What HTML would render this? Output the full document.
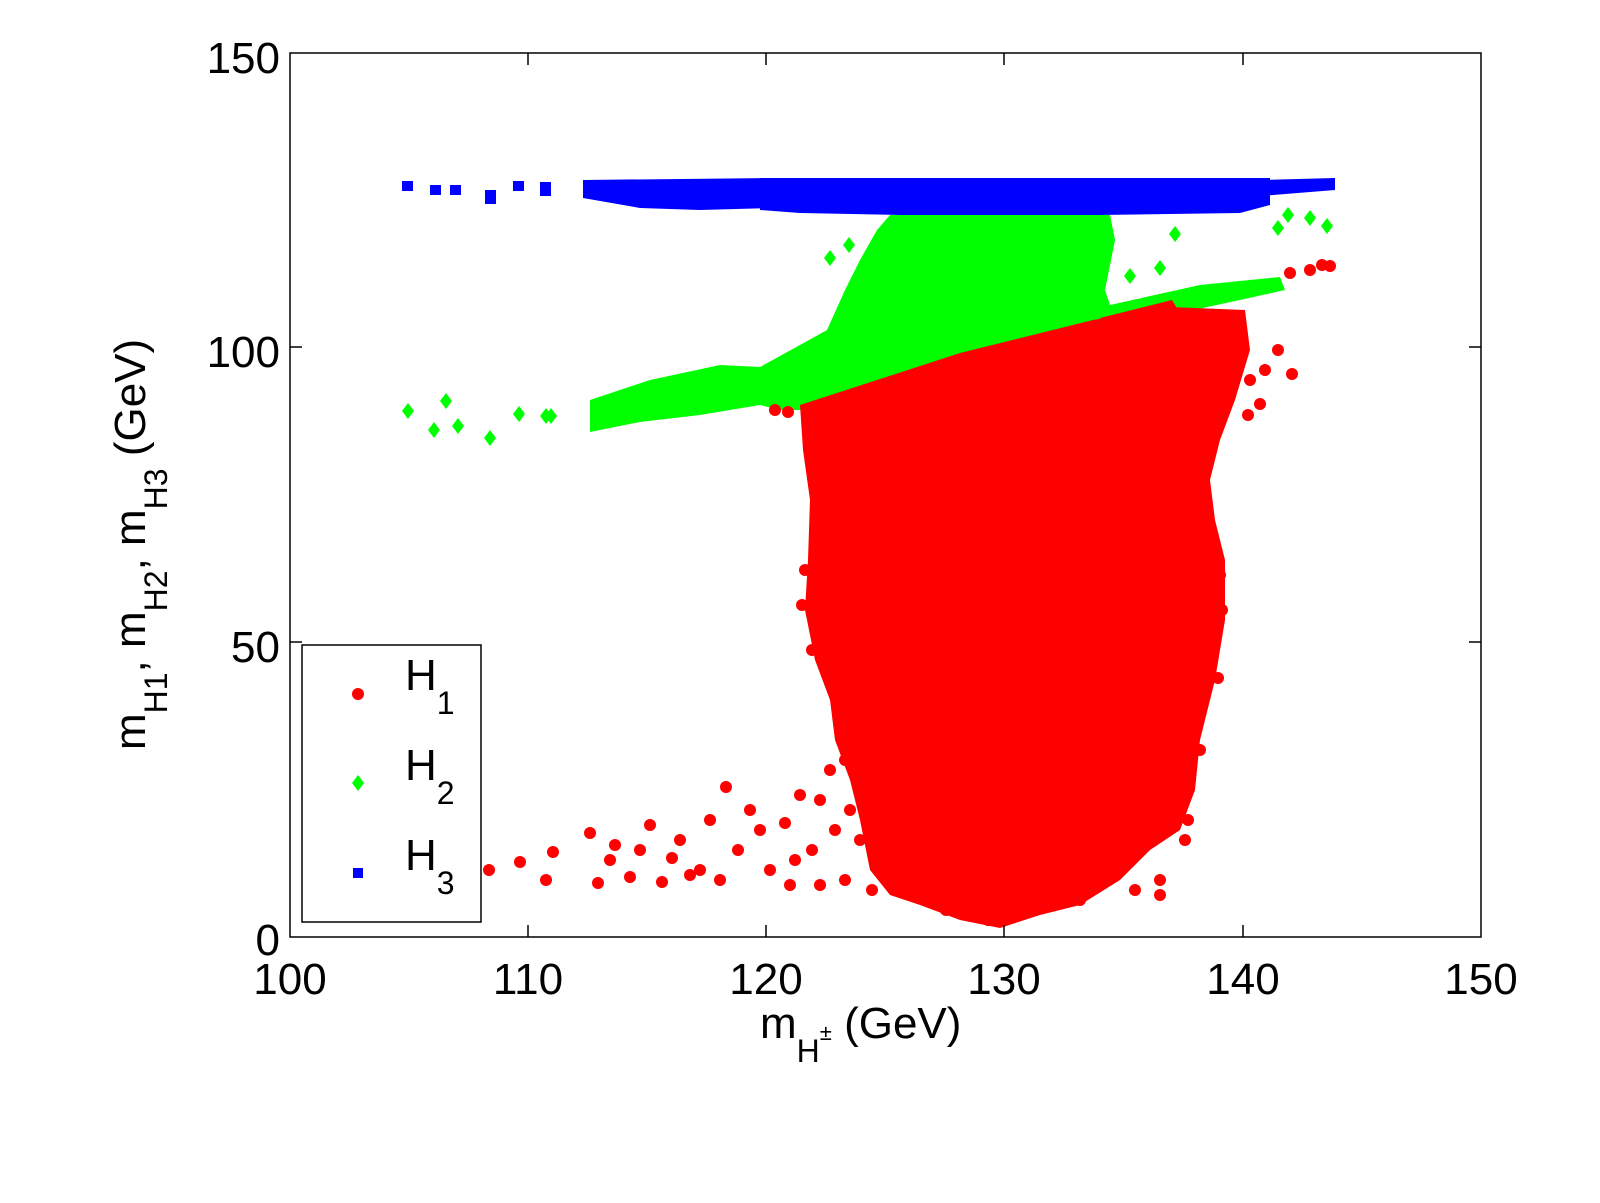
<!DOCTYPE html>
<html><head><meta charset="utf-8"><style>
html,body{margin:0;padding:0;background:#fff;}
svg{display:block;font-family:"Liberation Sans",sans-serif;}
</style></head><body>
<svg width="1600" height="1203" viewBox="0 0 1600 1203" xmlns="http://www.w3.org/2000/svg">
<rect width="1600" height="1203" fill="#fff"/>
<!-- blue band -->
<g fill="#0000ff">
<polygon points="760,178 1270,178 1270,205 1240,213 1100,215 900,215 800,213 760,210"/>
<polygon points="583,180 770,178 770,208 700,210 640,208 583,198"/>
<polygon points="1260,180 1335,178 1335,190 1260,196"/>
<rect x="402" y="181" width="11" height="10"/><rect x="430" y="185" width="11" height="10"/>
<rect x="450" y="185" width="11" height="10"/><rect x="485" y="190" width="11" height="14"/>
<rect x="513" y="181" width="11" height="10"/><rect x="540" y="182" width="11" height="14"/>
</g>
<!-- green -->
<g fill="#00ff00">
<polygon points="877,230 890,215 1110,215 1115,240 1105,290 1110,305 1200,285 1280,277 1285,290 1240,300 1100,330 960,355 810,410 780,410 760,405 700,415 640,422 590,432 590,400 650,380 720,365 760,367 800,345 827,330 845,290 860,260"/>
<g>
<polygon points="408,403 414,411 408,419 402,411"/><polygon points="434,422 440,430 434,438 428,430"/>
<polygon points="446,393 452,401 446,409 440,401"/><polygon points="458,418 464,426 458,434 452,426"/>
<polygon points="490,430 496,438 490,446 484,438"/><polygon points="519,406 525,414 519,422 513,414"/>
<polygon points="546,408 552,416 546,424 540,416"/><polygon points="551,408 557,416 551,424 545,416"/>
<polygon points="1288,207 1294,215 1288,223 1282,215"/><polygon points="1310,210 1316,218 1310,226 1304,218"/>
<polygon points="1327,218 1333,226 1327,234 1321,226"/><polygon points="1175,226 1181,234 1175,242 1169,234"/>
<polygon points="1130,268 1136,276 1130,284 1124,276"/><polygon points="1160,260 1166,268 1160,276 1154,268"/>
<polygon points="830,250 836,258 830,266 824,258"/><polygon points="849,237 855,245 849,253 843,245"/>
<polygon points="1278,220 1284,228 1278,236 1272,228"/>
</g></g>
<!-- red -->
<g fill="#ff0000">
<polygon points="800,405 960,353 1093,320 1170,307 1245,310 1250,350 1235,400 1220,440 1210,480 1215,520 1225,560 1225,620 1215,680 1200,740 1195,790 1180,830 1150,850 1120,880 1080,905 1040,915 1000,928 960,920 920,905 890,895 870,870 860,820 850,780 835,740 830,700 815,660 805,610 808,560 810,500 803,450"/>
<polygon points="1100,318 1172,300 1178,310 1110,328"/>
<g>
<circle cx="489" cy="870" r="6"/><circle cx="520" cy="862" r="6"/><circle cx="546" cy="880" r="6"/><circle cx="553" cy="852" r="6"/>
<circle cx="590" cy="833" r="6"/><circle cx="598" cy="883" r="6"/><circle cx="610" cy="860" r="6"/><circle cx="630" cy="877" r="6"/>
<circle cx="650" cy="825" r="6"/><circle cx="662" cy="882" r="6"/><circle cx="680" cy="840" r="6"/><circle cx="700" cy="870" r="6"/>
<circle cx="710" cy="820" r="6"/><circle cx="726" cy="787" r="6"/><circle cx="738" cy="850" r="6"/><circle cx="750" cy="810" r="6"/>
<circle cx="770" cy="870" r="6"/><circle cx="785" cy="823" r="6"/><circle cx="790" cy="885" r="6"/><circle cx="800" cy="795" r="6"/>
<circle cx="812" cy="850" r="6"/><circle cx="830" cy="770" r="6"/><circle cx="845" cy="880" r="6"/><circle cx="860" cy="840" r="6"/>
<circle cx="870" cy="760" r="6"/><circle cx="880" cy="870" r="6"/><circle cx="640" cy="850" r="6"/><circle cx="672" cy="858" r="6"/>
<circle cx="615" cy="845" r="6"/><circle cx="690" cy="875" r="6"/><circle cx="720" cy="880" r="6"/><circle cx="760" cy="830" r="6"/>
<circle cx="795" cy="860" r="6"/><circle cx="820" cy="885" r="6"/><circle cx="850" cy="810" r="6"/><circle cx="872" cy="890" r="6"/>
<circle cx="802" cy="605" r="6"/><circle cx="805" cy="570" r="6"/><circle cx="812" cy="650" r="6"/><circle cx="840" cy="698" r="6"/>
<circle cx="858" cy="735" r="6"/><circle cx="845" cy="760" r="6"/><circle cx="820" cy="800" r="6"/><circle cx="835" cy="830" r="6"/>
<circle cx="1220" cy="575" r="6"/><circle cx="1222" cy="610" r="6"/><circle cx="1218" cy="678" r="6"/><circle cx="1200" cy="750" r="6"/>
<circle cx="1188" cy="820" r="6"/><circle cx="1160" cy="880" r="6"/><circle cx="1130" cy="860" r="6"/><circle cx="1080" cy="900" r="6"/>
<circle cx="1108" cy="875" r="6"/><circle cx="1135" cy="890" r="6"/><circle cx="1160" cy="895" r="6"/><circle cx="1185" cy="840" r="6"/>
<circle cx="1150" cy="840" r="6"/><circle cx="1180" cy="780" r="6"/><circle cx="1195" cy="700" r="6"/><circle cx="1120" cy="830" r="6"/>
<circle cx="1260" cy="404" r="6"/><circle cx="1265" cy="370" r="6"/><circle cx="1278" cy="350" r="6"/><circle cx="1292" cy="374" r="6"/>
<circle cx="1250" cy="380" r="6"/><circle cx="1248" cy="415" r="6"/>
<circle cx="1290" cy="273" r="6"/><circle cx="1310" cy="270" r="6"/><circle cx="1330" cy="266" r="6"/><circle cx="1322" cy="265" r="6"/>
<circle cx="775" cy="410" r="6"/><circle cx="788" cy="412" r="6"/><circle cx="988" cy="920" r="6"/><circle cx="1010" cy="912" r="6"/><circle cx="946" cy="910" r="6"/>
</g></g>
<!-- axes box -->
<rect x="290" y="53" width="1191" height="884" fill="none" stroke="#000" stroke-width="1.5"/>
<g stroke="#000" stroke-width="1.5">
<line x1="528" y1="937" x2="528" y2="925"/><line x1="766" y1="937" x2="766" y2="925"/><line x1="1004" y1="937" x2="1004" y2="925"/><line x1="1243" y1="937" x2="1243" y2="925"/>
<line x1="528" y1="53" x2="528" y2="65"/><line x1="766" y1="53" x2="766" y2="65"/><line x1="1004" y1="53" x2="1004" y2="65"/><line x1="1243" y1="53" x2="1243" y2="65"/>
<line x1="290" y1="347" x2="302" y2="347"/><line x1="290" y1="642" x2="302" y2="642"/>
<line x1="1481" y1="347" x2="1469" y2="347"/><line x1="1481" y1="642" x2="1469" y2="642"/>
</g>
<g font-size="44" fill="#000">
<text x="280" y="73" text-anchor="end">150</text>
<text x="280" y="367" text-anchor="end">100</text>
<text x="280" y="662" text-anchor="end">50</text>
<text x="280" y="955" text-anchor="end">0</text>
<g text-anchor="middle">
<text x="290" y="994">100</text><text x="528" y="994">110</text><text x="766" y="994">120</text>
<text x="1004" y="994">130</text><text x="1243" y="994">140</text><text x="1481" y="994">150</text>
</g>
<text x="760" y="1038">m<tspan font-size="32" dy="24">H</tspan><tspan font-size="22" dy="-22">±</tspan><tspan dy="-2"> (GeV)</tspan></text>
<text transform="translate(145,750) rotate(-90)">m<tspan font-size="32" dy="22">H1</tspan><tspan dy="-22">, m</tspan><tspan font-size="32" dy="22">H2</tspan><tspan dy="-22">, m</tspan><tspan font-size="32" dy="22">H3</tspan><tspan dy="-22"> (GeV)</tspan></text>
</g>
<!-- legend -->
<rect x="302" y="645" width="179" height="277" fill="#fff" stroke="#000" stroke-width="1.5"/>
<circle cx="358" cy="694" r="6" fill="#ff0000"/>
<polygon points="358,775 364,783 358,791 352,783" fill="#00ff00"/>
<rect x="353" y="868" width="10" height="10" fill="#0000ff"/>
<g font-size="44" fill="#000">
<text x="405" y="690">H<tspan font-size="32" dy="24">1</tspan></text>
<text x="405" y="780">H<tspan font-size="32" dy="24">2</tspan></text>
<text x="405" y="870">H<tspan font-size="32" dy="24">3</tspan></text>
</g>
</svg>
</body></html>
